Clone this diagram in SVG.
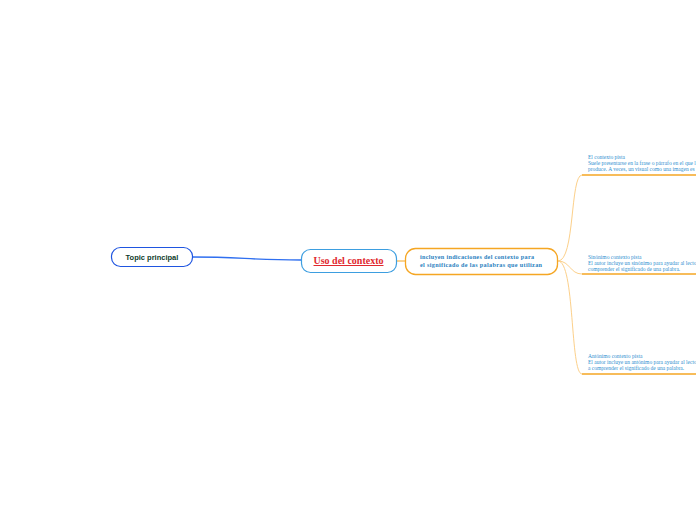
<svg xmlns="http://www.w3.org/2000/svg" width="696" height="520" viewBox="0 0 696 520">
<style>
.leaf{font-family:"Liberation Serif",serif;font-size:5.5px;fill:#2f8fd0}
.oline{stroke:#f5a623;stroke-width:1.6;fill:none}
.ocurve{stroke:#fcd08a;stroke-width:1;fill:none}
</style>
<rect width="696" height="520" fill="#ffffff"/>
<g id="connectors">
<path d="M192,257 C240,257 250,260 301,260" stroke="#2f6ff0" stroke-width="1.3" fill="none"/>
<path d="M396,261 L405,261" stroke="#f5a623" stroke-width="1" fill="none"/>
<path class="ocurve" d="M558,261 C575,261 570,175 582,175"/>
<path class="ocurve" d="M558,261 C570,261 570,274 582,274"/>
<path class="ocurve" d="M558,261 C575,261 570,374 582,374"/>
</g>
<g id="topic">
<rect x="111.5" y="247.5" width="81" height="19" rx="9" fill="#fff" stroke="#1f55e0" stroke-width="1.2"/>
<text x="152" y="259.5" text-anchor="middle" font-family="Liberation Sans,Arial,sans-serif" font-size="7.5" font-weight="bold" fill="#0c3a2a">Topic principal</text>
</g>
<g id="uso">
<rect x="301.5" y="249.5" width="95" height="23" rx="9" fill="#fff" stroke="#3d9ee0" stroke-width="1.2"/>
<text x="348.5" y="264" text-anchor="middle" font-family="Liberation Serif,serif" font-size="10" font-weight="bold" fill="#e0282e" text-decoration="underline">Uso del contexto</text>
</g>
<g id="incluyen">
<rect x="405.5" y="248.5" width="152" height="26" rx="10" fill="#fff" stroke="#f5a623" stroke-width="1.3"/>
<text font-family="Liberation Serif,serif" font-size="6.2" font-weight="bold" fill="#2a7fc0">
<tspan x="420" y="258.5" textLength="114" lengthAdjust="spacing">incluyen indicaciones del contexto para</tspan>
<tspan x="420" y="267" textLength="122" lengthAdjust="spacing">el significado de las palabras que utilizan</tspan>
</text>
</g>
<g id="leaf1">
<path class="oline" d="M582,175 L696,175"/>
<text class="leaf"><tspan x="588" y="159">El contexto pista</tspan><tspan x="588" y="165">Suele presentarse en la frase o párrafo en el que l</tspan><tspan x="588" y="171">produce. A veces, un visual como una imagen es</tspan></text>
</g>
<g id="leaf2">
<path class="oline" d="M582,274 L696,274"/>
<text class="leaf"><tspan x="588" y="259">Sinónimo contexto pista</tspan><tspan x="588" y="265">El autor incluye un sinónimo para ayudar al lecto</tspan><tspan x="588" y="271">comprender el significado de una palabra.</tspan></text>
</g>
<g id="leaf3">
<path class="oline" d="M582,374 L696,374"/>
<text class="leaf"><tspan x="588" y="358">Antónimo contexto pista</tspan><tspan x="588" y="364">El autor incluye un antónimo para ayudar al lecto</tspan><tspan x="588" y="370">a comprender el significado de una palabra.</tspan></text>
</g>
</svg>
